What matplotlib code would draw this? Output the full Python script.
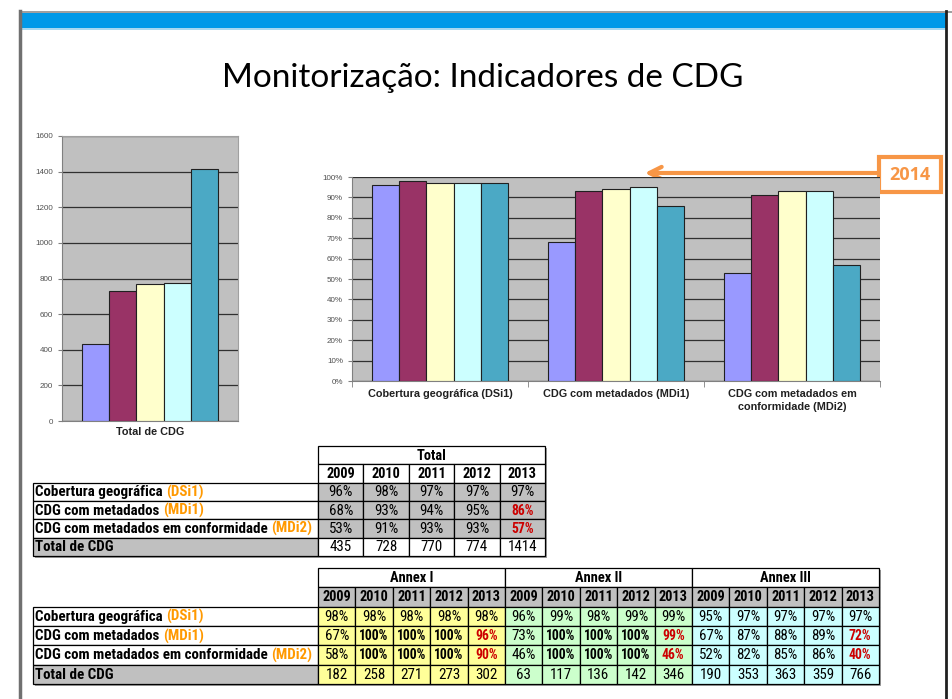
import matplotlib
matplotlib.use("Agg")
import matplotlib.pyplot as plt
from matplotlib.patches import Rectangle
from matplotlib import font_manager as fm
import numpy as np

# ---------------- data ----------------
years = ['2009', '2010', '2011', '2012', '2013']
indicators = ['Cobertura geográfica', 'CDG com metadados', 'CDG com metadados em conformidade']
codes = ['(DSi1)', '(MDi1)', '(MDi2)']
chart_categories = ['Cobertura geográfica (DSi1)', 'CDG com metadados (MDi1)',
                    'CDG com metadados em\nconformidade (MDi2)']

total_pct = [[96, 98, 97, 97, 97],
             [68, 93, 94, 95, 86],
             [53, 91, 93, 93, 57]]
total_cdg = [435, 728, 770, 774, 1414]

annex_names = ['Annex I', 'Annex II', 'Annex III']
annex1_pct = [[98, 98, 98, 98, 98],
              [67, 100, 100, 100, 96],
              [58, 100, 100, 100, 90]]
annex1_cdg = [182, 258, 271, 273, 302]
annex2_pct = [[96, 99, 98, 99, 99],
              [73, 100, 100, 100, 99],
              [46, 100, 100, 100, 46]]
annex2_cdg = [63, 117, 136, 142, 346]
annex3_pct = [[95, 97, 97, 97, 97],
              [67, 87, 88, 89, 72],
              [52, 82, 85, 86, 40]]
annex3_cdg = [190, 353, 363, 359, 766]

title = 'Monitorização: Indicadores de CDG'
highlight_year = '2014'

# ---------------- style ----------------
bar_colors = ['#9999FF', '#993366', '#FFFFCC', '#CCFFFF', '#4BA9C5']
plot_bg = '#C0C0C0'
orange = '#F79646'
code_orange = '#FF9900'
red = '#CC0000'
annex_fill = ['#FFFF99', '#CCFFCC', '#CCFFFF']


def have(name):
    try:
        fm.findfont(fm.FontProperties(family=name), fallback_to_default=False)
        return True
    except Exception:
        return False


narrow = None
for cand in ['Liberation Sans Narrow', 'Arial Narrow', 'Roboto Condensed',
             'DejaVu Sans Condensed', 'Open Sans Condensed']:
    if have(cand):
        narrow = cand
        break
if narrow is None:
    table_font = 'Liberation Sans'
    VFS, BFS, YFS, LFS = 8.8, 8.6, 8.8, 8.2
else:
    table_font = narrow
    VFS, BFS, YFS, LFS = 10.8, 9.8, 10.4, 10.8

title_font = 'Lato' if have('Lato') else 'DejaVu Sans'
plt.rcParams['font.family'] = ['Liberation Sans', 'DejaVu Sans']

W, H = 952, 699
fig = plt.figure(figsize=(W / 100, H / 100), dpi=100)
fig.patch.set_facecolor('white')

# full-figure pixel canvas
canvas = fig.add_axes([0, 0, 1, 1])
canvas.set_xlim(0, W)
canvas.set_ylim(H, 0)
canvas.axis('off')

# slide frame
canvas.add_patch(Rectangle((20, 11), W - 20, 2, facecolor='#A0A0A0', edgecolor='none'))
canvas.add_patch(Rectangle((20, 13), 926, 15, facecolor='#0099E8', edgecolor='none'))
canvas.add_patch(Rectangle((20, 28), 926, 2, facecolor='#A8D8F0', edgecolor='none'))
canvas.plot([20, 20], [11, H], color='#707070', lw=2.5)
canvas.plot([946, 946], [11, H], color='#202020', lw=2)

canvas.text(483, 78, title, ha='center', va='center', fontsize=24,
            family=title_font, color='black')


def fx(x):
    return x / W


def fy(y):
    return 1 - y / H


# ---------------- left chart ----------------
axL = fig.add_axes([fx(62), fy(421), fx(238) - fx(62), fy(136) - fy(421)])
axL.set_facecolor(plot_bg)
bw = 0.77 / 5
for i, (yr, v) in enumerate(zip(years, total_cdg)):
    axL.bar(0 + (i - 2) * bw, v, width=bw, color=bar_colors[i], edgecolor='#202020',
            linewidth=0.8, zorder=3)
axL.set_xlim(-0.5, 0.5)
axL.set_ylim(0, 1600)
axL.set_yticks(np.arange(0, 1601, 200))
axL.yaxis.grid(True, color='#303030', lw=0.9, zorder=1)
axL.set_xticks([0])
axL.set_xticklabels(['Total de CDG'], fontsize=7.8, fontweight='bold', color='#202020')
axL.tick_params(axis='y', labelsize=5.8, labelcolor='#505050', length=3, color='#808080')
axL.tick_params(axis='x', length=0, pad=4)
for s in ['top', 'right']:
    axL.spines[s].set_color('#A0A0A0')
for s in ['left', 'bottom']:
    axL.spines[s].set_color('#808080')

# ---------------- right chart ----------------
axR = fig.add_axes([fx(352), fy(381), fx(880) - fx(352), fy(177) - fy(381)])
axR.set_facecolor(plot_bg)
xc = np.arange(len(chart_categories))
for i, yr in enumerate(years):
    vals = [total_pct[k][i] / 100 for k in range(3)]
    axR.bar(xc + (i - 2) * bw, vals, width=bw, color=bar_colors[i], edgecolor='#202020',
            linewidth=0.8, zorder=3)
axR.set_xlim(-0.5, 2.5)
axR.set_ylim(0, 1.0)
axR.set_yticks(np.arange(0, 1.01, 0.1))
axR.set_yticklabels([f'{int(round(t * 100))}%' for t in np.arange(0, 1.01, 0.1)])
axR.yaxis.grid(True, color='#303030', lw=0.9, zorder=1)
axR.set_xticks(xc)
axR.set_xticklabels(chart_categories, fontsize=7.8, fontweight='bold', color='#202020',
                    linespacing=1.35)
axR.set_xticks([-0.5, 0.5, 1.5, 2.5], minor=True)
axR.tick_params(axis='x', which='major', length=0, pad=6)
axR.tick_params(axis='x', which='minor', length=4, color='#808080')
axR.tick_params(axis='y', labelsize=5.8, labelcolor='#505050', length=3, color='#808080')
for s in ['top', 'right']:
    axR.spines[s].set_visible(False)
for s in ['left', 'bottom']:
    axR.spines[s].set_color('#808080')

# 2014 arrow and box
canvas.annotate('', xy=(642, 173), xytext=(880, 173),
                arrowprops=dict(arrowstyle='->', color=orange, lw=3, mutation_scale=22))
canvas.add_patch(Rectangle((879, 157), 62, 35, facecolor='white', edgecolor=orange, lw=3,
                           zorder=5))
canvas.text(910, 175.5, highlight_year, ha='center', va='center', fontsize=13,
            fontweight='bold', color=orange, zorder=6, family=['Open Sans', 'DejaVu Sans'])


# ---------------- tables ----------------
def cell(x, y, w, h, fc, text='', color='black', weight='normal', ha='center', fs=None):
    if fs is None:
        fs = VFS
    canvas.add_patch(Rectangle((x, y), w, h, facecolor=fc, edgecolor='black', lw=0.9))
    if text != '':
        tx = x + w / 2 if ha == 'center' else x + 2
        return canvas.text(tx, y + h / 2 + 0.5, text, ha=ha, va='center', fontsize=fs,
                           color=color, fontweight=weight, family=[table_font, 'DejaVu Sans'])
    return None


def label_cell(x, y, w, h, fc, name, code):
    t = cell(x, y, w, h, fc, name + ' ', weight='bold', ha='left', fs=LFS)
    if code:
        canvas.annotate(code, xy=(1, 0.5), xycoords=t, va='center', ha='left',
                        fontsize=LFS, fontweight='bold', color=code_orange,
                        family=[table_font, 'DejaVu Sans'])


def shadow(x, y, w, h):
    canvas.add_patch(Rectangle((x + 2, y + 2), w, h, facecolor='#A0A0A0', edgecolor='none'))


# Table 1: Total
lx0, lx1 = 33, 318
cw1 = (545 - 318) / 5
t1_top = 446
rh1 = 18.3
shadow(lx1, t1_top, 5 * cw1, 2 * rh1)
shadow(lx0, t1_top + 2 * rh1, (lx1 - lx0) + 5 * cw1, 4 * rh1)
cell(lx1, t1_top, 5 * cw1, rh1, 'white', 'Total', weight='bold', fs=YFS)
for j, yr in enumerate(years):
    cell(lx1 + j * cw1, t1_top + rh1, cw1, rh1, 'white', yr, weight='bold', fs=YFS)
for r in range(3):
    y = t1_top + (2 + r) * rh1
    label_cell(lx0, y, lx1 - lx0, rh1, 'white', indicators[r], codes[r])
    for j in range(5):
        v = total_pct[r][j]
        c, wgt, fs = 'black', 'normal', VFS
        if j == 4 and r > 0:
            c, wgt, fs = red, 'bold', BFS
        cell(lx1 + j * cw1, y, cw1, rh1, plot_bg, f'{v}%', color=c, weight=wgt, fs=fs)
y = t1_top + 5 * rh1
label_cell(lx0, y, lx1 - lx0, rh1, plot_bg, 'Total de CDG', None)
for j in range(5):
    cell(lx1 + j * cw1, y, cw1, rh1, 'white', str(total_cdg[j]))

# Table 2: Annexes
annex_pct = [annex1_pct, annex2_pct, annex3_pct]
annex_cdg = [annex1_cdg, annex2_cdg, annex3_cdg]
cw2 = (879 - 318) / 15
t2_top = 568
rh2 = 19.3
shadow(lx1, t2_top, 15 * cw2, 2 * rh2)
shadow(lx0, t2_top + 2 * rh2, (lx1 - lx0) + 15 * cw2, 4 * rh2)
for a in range(3):
    ax0 = lx1 + a * 5 * cw2
    cell(ax0, t2_top, 5 * cw2, rh2, 'white', annex_names[a], weight='bold', fs=YFS)
    for j, yr in enumerate(years):
        cell(ax0 + j * cw2, t2_top + rh2, cw2, rh2, plot_bg, yr, weight='bold', fs=YFS)
for r in range(3):
    y = t2_top + (2 + r) * rh2
    label_cell(lx0, y, lx1 - lx0, rh2, 'white', indicators[r], codes[r])
    for a in range(3):
        ax0 = lx1 + a * 5 * cw2
        for j in range(5):
            v = annex_pct[a][r][j]
            c, wgt, fs = 'black', 'normal', VFS
            if j == 4 and r > 0:
                c, wgt, fs = red, 'bold', BFS
            elif v == 100:
                wgt, fs = 'bold', BFS
            cell(ax0 + j * cw2, y, cw2, rh2, annex_fill[a], f'{v}%', color=c, weight=wgt,
                 fs=fs)
y = t2_top + 5 * rh2
label_cell(lx0, y, lx1 - lx0, rh2, plot_bg, 'Total de CDG', None)
for a in range(3):
    ax0 = lx1 + a * 5 * cw2
    for j in range(5):
        cell(ax0 + j * cw2, y, cw2, rh2, annex_fill[a], str(annex_cdg[a][j]))

fig.savefig('out.png', dpi=100, facecolor='white')
